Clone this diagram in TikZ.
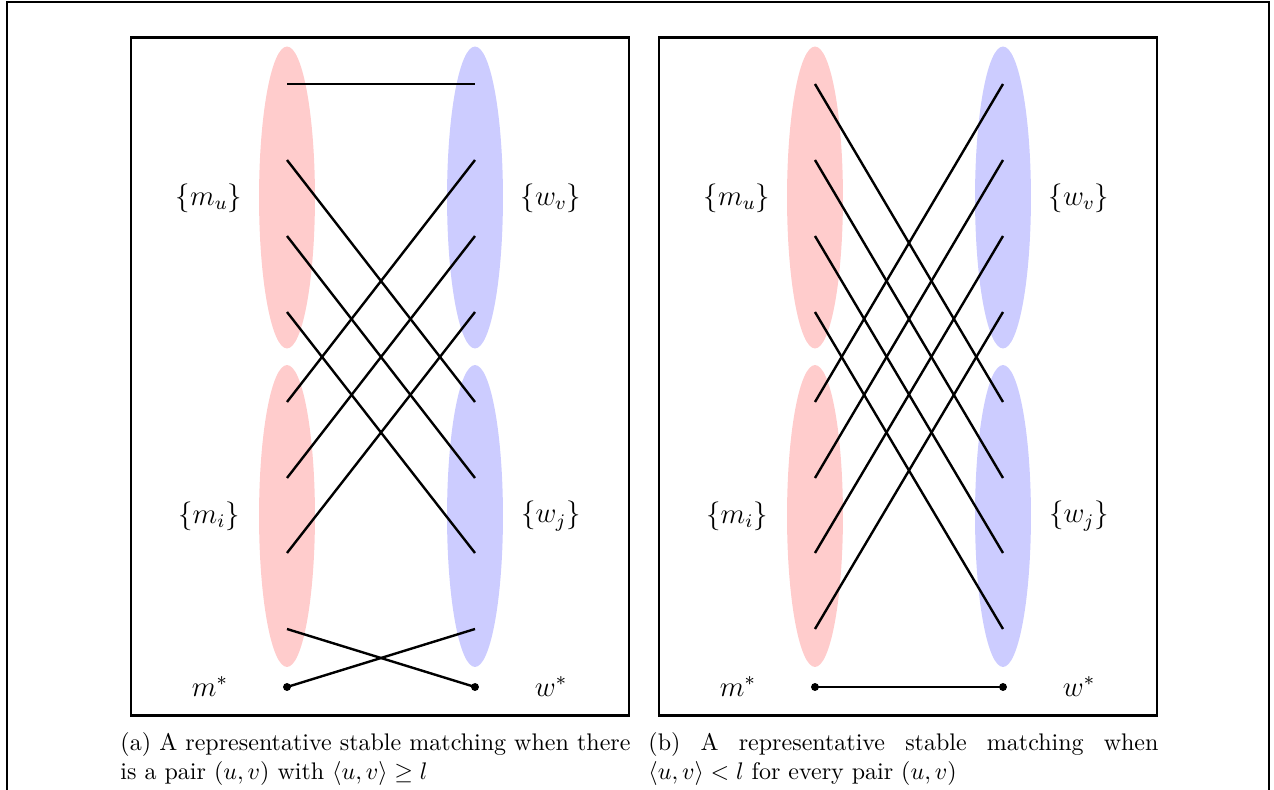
\documentclass[tikz,border=0pt]{standalone}
\usetikzlibrary{shapes.geometric}
\begin{document}
\begin{tikzpicture}[x=0.41667pt,y=-0.41667pt,
  edge/.style={line width=1pt},
  frame/.style={line width=1.08pt},
  redset/.style={ellipse, fill=red!20, draw=none, minimum width=23.3pt, minimum height=125.8pt, inner sep=0pt},
  blueset/.style={ellipse, fill=blue!20, draw=none, minimum width=23.3pt, minimum height=125.8pt, inner sep=0pt},
  lbl/.style={font=\large, inner sep=0pt},
  captext/.style={font=\normalsize, text width=212.5pt, align=justify, inner sep=0pt, anchor=north west},
  dot/.style={circle, fill=black, inner sep=0pt, minimum size=3.3pt}
]
\useasboundingbox (0,0) rectangle (1274,790);
\draw[frame] (7,790) -- (7,2) -- (1269,2) -- (1269,790);

\foreach \p/\dx in {a/0,b/220}{
  \begin{scope}[xshift=\dx pt]
    \draw[frame] (131,37.7) rectangle (629,715.7);
    \node[redset]  (\p mu) at (287,197.5) {};
    \node[redset]  (\p mi) at (287,516) {};
    \node[blueset] (\p wv) at (475,197.5) {};
    \node[blueset] (\p wj) at (475,516) {};
    \foreach \i/\y in {1/84,2/160,3/236,4/312,5/402,6/478,7/553,8/629}{
      \coordinate (\p L\i) at (287,\y);
      \coordinate (\p R\i) at (475,\y);
    }
    \node[dot] (\p ms) at (287,687) {};
    \node[dot] (\p ws) at (475,687) {};
    \node[lbl] (\p lmu) at (209,198) {$\{m_u\}$};
    \node[lbl] (\p lwv) at (551,198) {$\{w_v\}$};
    \node[lbl] (\p lmi) at (209,516) {$\{m_i\}$};
    \node[lbl] (\p lwj) at (551,516) {$\{w_j\}$};
    \node[lbl, anchor=base] (\p lms) at (210,696) {$m^*$};
    \node[lbl, anchor=base] (\p lws) at (551,696) {$w^*$};
  \end{scope}
}

% panel (a) matching
\draw[edge] (aL1) -- (aR1);
\draw[edge] (aL2) -- (aR5);
\draw[edge] (aL3) -- (aR6);
\draw[edge] (aL4) -- (aR7);
\draw[edge] (aR2) -- (aL5);
\draw[edge] (aR3) -- (aL6);
\draw[edge] (aR4) -- (aL7);
\draw[edge] (aL8) -- (aws.center);
\draw[edge] (aR8) -- (ams.center);

% panel (b) matching
\draw[edge] (bL1) -- (bR5);
\draw[edge] (bL2) -- (bR6);
\draw[edge] (bL3) -- (bR7);
\draw[edge] (bL4) -- (bR8);
\draw[edge] (bR1) -- (bL5);
\draw[edge] (bR2) -- (bL6);
\draw[edge] (bR3) -- (bL7);
\draw[edge] (bR4) -- (bL8);
\draw[edge] (bms.center) -- (bws.center);

\node[captext] (capa) at (120,732) {(a) A representative stable matching when there\linebreak is a pair $(u,v)$ with $\langle u,v\rangle \geq l$};
\node[captext] (capb) at (648,732) {(b) A representative stable matching when\linebreak $\langle u,v\rangle < l$ for every pair $(u,v)$};
\end{tikzpicture}
\end{document}
